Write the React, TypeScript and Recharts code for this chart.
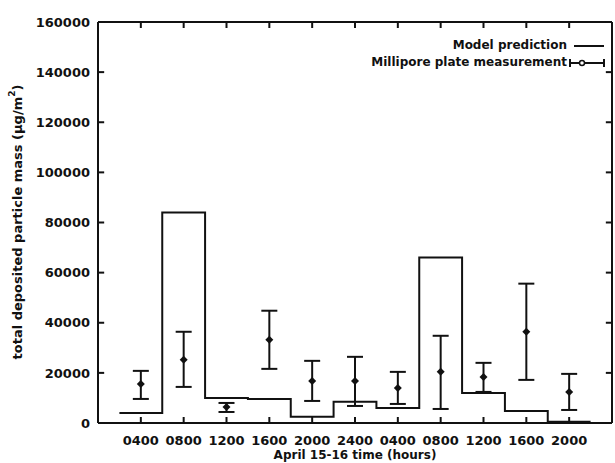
import { ComposedChart, Line, Scatter, ErrorBar, XAxis, YAxis, Legend, ReferenceLine } from 'recharts'

const tickHours = [4, 8, 12, 16, 20, 24, 28, 32, 36, 40, 44]
const tickLabels = ['0400', '0800', '1200', '1600', '2000', '2400', '0400', '0800', '1200', '1600', '2000']
const yTicks = [0, 20000, 40000, 60000, 80000, 100000, 120000, 140000, 160000]

// model prediction, one 4 hour block around each tick
const modelValues = [4000, 84000, 10000, 9600, 2500, 8500, 6000, 66000, 12000, 4800, 500]

// millipore plate measurement with its error range
const measured = [15600, 25200, 6400, 33200, 16800, 16800, 14000, 20400, 18400, 36400, 12400]
const measuredHigh = [20800, 36400, 8000, 44800, 24800, 26400, 20400, 34800, 24000, 55600, 19600]
const measuredLow = [9600, 14400, 4400, 21600, 8800, 6800, 7600, 5600, 12400, 17200, 5200]

const X_MAX = 48
const Y_MAX = 160000
const FONT = '"DejaVu Sans", sans-serif'
const INK = '#111'

const modelData = [
  ...tickHours.map((h, i) => ({ hour: h - 2, mass: modelValues[i] })),
  { hour: tickHours[tickHours.length - 1] + 2, mass: modelValues[modelValues.length - 1] },
]

const plateData = tickHours.map((h, i) => ({
  hour: h,
  mass: measured[i],
  err: [measured[i] - measuredLow[i], measuredHigh[i] - measured[i]],
}))

// inward tick marks, about 6px long, drawn in data units
const vTick = Y_MAX * 0.015
const hTick = X_MAX * 0.012

const BottomTick = ({ x, y, payload }: any) => (
  <text x={x} y={y} dy="0.71em" textAnchor="middle" fontFamily={FONT} fontWeight={700} fontSize={13} fill={INK}>
    {tickLabels[tickHours.indexOf(payload.value)]}
  </text>
)

const LeftTick = ({ x, y, payload }: any) => (
  <text x={x} y={y} dy="0.36em" textAnchor="end" fontFamily={FONT} fontWeight={700} fontSize={13} fill={INK}>
    {payload.value}
  </text>
)

const Diamond = ({ cx, cy }: any) => (
  <polygon points={`${cx},${cy - 4} ${cx + 4},${cy} ${cx},${cy + 4} ${cx - 4},${cy}`} fill={INK} />
)

const yLabel = () => (
  <text x={17} y={222} transform="rotate(-90, 17, 222)" textAnchor="middle" dominantBaseline="central"
    fontFamily={FONT} fontWeight={700} fontSize={13} fill={INK}>
    total deposited particle mass (μg/m<tspan dy={-5} fontSize={9}>2</tspan><tspan dy={5}>)</tspan>
  </text>
)

const xLabel = () => (
  <text x={355} y={455} textAnchor="middle" dominantBaseline="central"
    fontFamily={FONT} fontWeight={700} fontSize={12} fill={INK}>
    April 15-16 time (hours)
  </text>
)

const renderLegend = () => (
  <div style={{ fontFamily: FONT, fontWeight: 700, fontSize: 12, color: INK, lineHeight: '17px', textAlign: 'right' }}>
    <div style={{ display: 'flex', alignItems: 'center', justifyContent: 'flex-end' }}>
      <span>Model prediction</span>
      <svg width={40} height={12}>
        <line x1={7} y1={6} x2={37} y2={6} stroke={INK} strokeWidth={2} />
      </svg>
    </div>
    <div style={{ display: 'flex', alignItems: 'center', justifyContent: 'flex-end' }}>
      <span>Millipore plate measurement</span>
      <svg width={40} height={12}>
        <line x1={3} y1={6} x2={37} y2={6} stroke={INK} strokeWidth={2} />
        <line x1={3} y1={2} x2={3} y2={10} stroke={INK} strokeWidth={2} />
        <line x1={37} y1={2} x2={37} y2={10} stroke={INK} strokeWidth={2} />
        <circle cx={15} cy={6} r={2.5} fill="#fff" stroke={INK} strokeWidth={1.5} />
      </svg>
    </div>
  </div>
)

const rl = { stroke: INK, strokeWidth: 2, ifOverflow: 'visible' as const }

export default function App() {
  return (
    <div style={{ position: 'absolute', left: 0, top: 0, background: '#fff' }}>
      <ComposedChart width={615} height={463} margin={{ top: 22, right: 3, bottom: 0, left: 0 }}>
        <XAxis
          dataKey="hour"
          type="number"
          domain={[0, X_MAX]}
          ticks={tickHours}
          height={40}
          tickLine={false}
          axisLine={false}
          tickMargin={7}
          tick={<BottomTick />}
          label={xLabel}
        />
        <YAxis
          type="number"
          domain={[0, Y_MAX]}
          ticks={yTicks}
          width={98}
          tickLine={false}
          axisLine={false}
          tickMargin={2}
          tick={<LeftTick />}
          label={yLabel}
        />
        {/* frame */}
        <ReferenceLine x={0} {...rl} />
        <ReferenceLine x={X_MAX} {...rl} />
        <ReferenceLine y={0} {...rl} />
        <ReferenceLine y={Y_MAX} {...rl} />
        {tickHours.map((h) => (
          <ReferenceLine key={`b${h}`} segment={[{ x: h, y: 0 }, { x: h, y: vTick }]} {...rl} />
        ))}
        {tickHours.map((h) => (
          <ReferenceLine key={`t${h}`} segment={[{ x: h, y: Y_MAX }, { x: h, y: Y_MAX - vTick }]} {...rl} />
        ))}
        {yTicks.map((v) => (
          <ReferenceLine key={`l${v}`} segment={[{ x: 0, y: v }, { x: hTick, y: v }]} {...rl} />
        ))}
        {yTicks.map((v) => (
          <ReferenceLine key={`r${v}`} segment={[{ x: X_MAX, y: v }, { x: X_MAX - hTick, y: v }]} {...rl} />
        ))}
        <Line
          data={modelData}
          dataKey="mass"
          type="stepAfter"
          stroke={INK}
          strokeWidth={2}
          dot={false}
          isAnimationActive={false}
          name="Model prediction"
        />
        <Scatter
          data={plateData}
          dataKey="mass"
          shape={<Diamond />}
          isAnimationActive={false}
          name="Millipore plate measurement"
        >
          <ErrorBar dataKey="err" direction="y" width={8} stroke={INK} strokeWidth={2} isAnimationActive={false} />
        </Scatter>
        <Legend
          layout="horizontal"
          verticalAlign="middle"
          align="center"
          content={renderLegend}
          wrapperStyle={{ top: 37, right: 8, width: 'auto' }}
        />
      </ComposedChart>
    </div>
  )
}
